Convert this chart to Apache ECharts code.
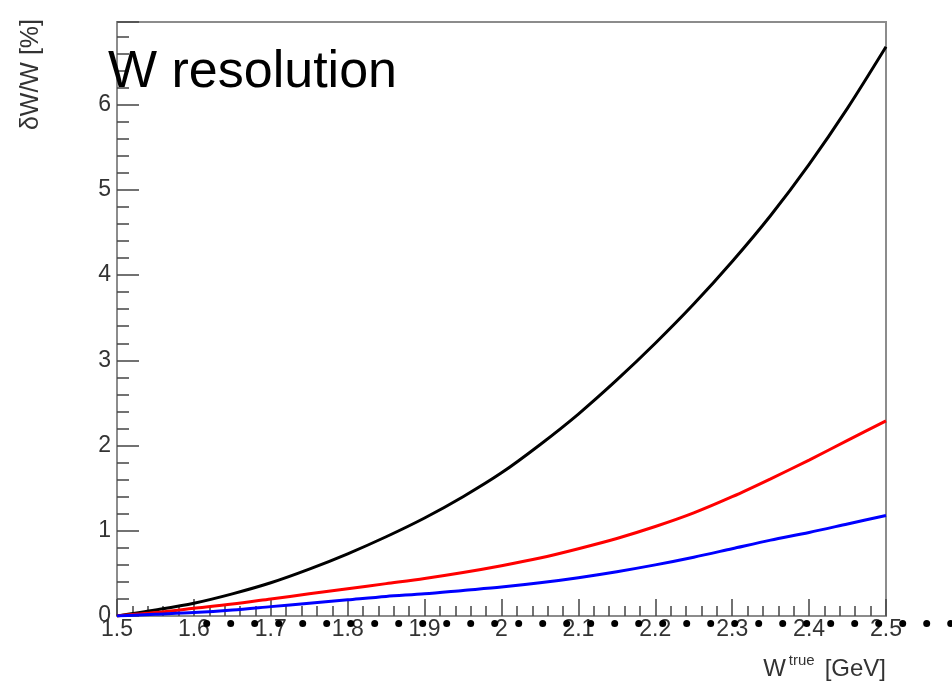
<!DOCTYPE html>
<html>
<head>
<meta charset="utf-8">
<script src="https://cdn.jsdelivr.net/npm/echarts@6/dist/echarts.min.js"></script>
<style>
  html, body { margin: 0; padding: 0; background: #fff; }
  #chart { width: 952px; height: 689px; }
</style>
</head>
<body>
<div id="chart"></div>
<script>
// W true values (GeV) at which the resolutions are sampled
const wTrue = [1.5, 1.55, 1.6, 1.65, 1.7, 1.75, 1.8, 1.85, 1.9, 1.95, 2.0,
               2.05, 2.1, 2.15, 2.2, 2.25, 2.3, 2.35, 2.4, 2.45, 2.5];
// relative W resolution in percent, three configurations
const resBlack = [0, 0.07, 0.15, 0.26, 0.39, 0.55, 0.73, 0.93, 1.15, 1.40, 1.68,
                  2.01, 2.37, 2.77, 3.20, 3.66, 4.16, 4.70, 5.30, 5.96, 6.68];
const resRed   = [0, 0.04, 0.09, 0.14, 0.20, 0.26, 0.32, 0.38, 0.44, 0.51, 0.59,
                  0.68, 0.79, 0.91, 1.05, 1.21, 1.40, 1.61, 1.83, 2.06, 2.29];
const resBlue  = [0, 0.02, 0.04, 0.07, 0.11, 0.15, 0.19, 0.23, 0.26, 0.30, 0.34,
                  0.39, 0.45, 0.52, 0.60, 0.69, 0.79, 0.89, 0.98, 1.08, 1.18];

const pairs = ys => wTrue.map((x, i) => [x, ys[i]]);
const font = 'Liberation Sans, Arial, Helvetica, sans-serif';
const frameColor = '#8c8c8c';
const tickColor = '#444';

const chart = echarts.init(document.getElementById('chart'), null, { renderer: 'canvas' });

const lineSeries = (data, color) => ({
  type: 'line',
  data: pairs(data),
  showSymbol: false,
  smooth: 0.3,
  lineStyle: { color: color, width: 3 },
  z: 3
});

chart.setOption({
  animation: false,
  backgroundColor: '#fff',
  grid: {
    left: 117, right: 66, top: 22, bottom: 73,
    show: true, borderColor: frameColor, borderWidth: 2, backgroundColor: 'transparent'
  },
  xAxis: {
    type: 'value',
    min: 1.5, max: 2.5, interval: 0.1,
    axisLine: { show: true, lineStyle: { color: frameColor, width: 2 } },
    axisTick: { show: true, inside: true, length: 17, lineStyle: { color: tickColor, width: 1.5 } },
    minorTick: { show: true, splitNumber: 5, length: 10, lineStyle: { color: tickColor, width: 1.5 } },
    splitLine: { show: false },
    axisLabel: {
      color: '#333', fontFamily: font, fontSize: 23, margin: 2,
      formatter: v => String(parseFloat(v.toFixed(2)))
    }
  },
  yAxis: {
    type: 'value',
    min: 0, max: 6.97, interval: 1,
    axisLine: { show: true, lineStyle: { color: frameColor, width: 2 } },
    axisTick: { show: true, inside: true, length: 22, lineStyle: { color: tickColor, width: 1.5 } },
    minorTick: { show: true, splitNumber: 5, length: 12, lineStyle: { color: tickColor, width: 1.5 } },
    splitLine: { show: false },
    axisLabel: {
      color: '#333', fontFamily: font, fontSize: 23, margin: 6,
      padding: [5, 0, 0, 0],
      showMaxLabel: false,
      formatter: v => String(Math.round(v))
    }
  },
  series: [
    lineSeries(resBlack, '#000000'),
    lineSeries(resRed, '#ff0000'),
    lineSeries(resBlue, '#0000ff')
  ],
  graphic: [
    {
      type: 'text', left: 108, top: 47, z: 10,
      style: { text: 'W resolution', fill: '#000', font: '52px ' + font }
    },
    {
      type: 'text', x: 31, y: 19, rotation: Math.PI / 2, z: 10,
      style: { text: 'δW/W [%]', fill: '#333', font: '25px ' + font,
               align: 'right', verticalAlign: 'middle' }
    },
    {
      type: 'text', x: 886, y: 669, z: 10,
      style: {
        text: '{w|W}{sup|true}{u|[GeV]}',
        align: 'right', verticalAlign: 'middle',
        rich: {
          w: { fontFamily: font, fontSize: 24, fill: '#333' },
          sup: { fontFamily: font, fontSize: 15, fill: '#333', padding: [0, 10, 16, 3] },
          u: { fontFamily: font, fontSize: 24, fill: '#333' }
        }
      }
    },
    {
      // dotted rule running under the x axis
      type: 'line', z: 10,
      shape: { x1: 206.7, y1: 623.5, x2: 960, y2: 623.5 },
      style: { stroke: '#000', lineWidth: 7, lineCap: 'round', lineDash: [0, 24] }
    }
  ]
});
</script>
</body>
</html>
